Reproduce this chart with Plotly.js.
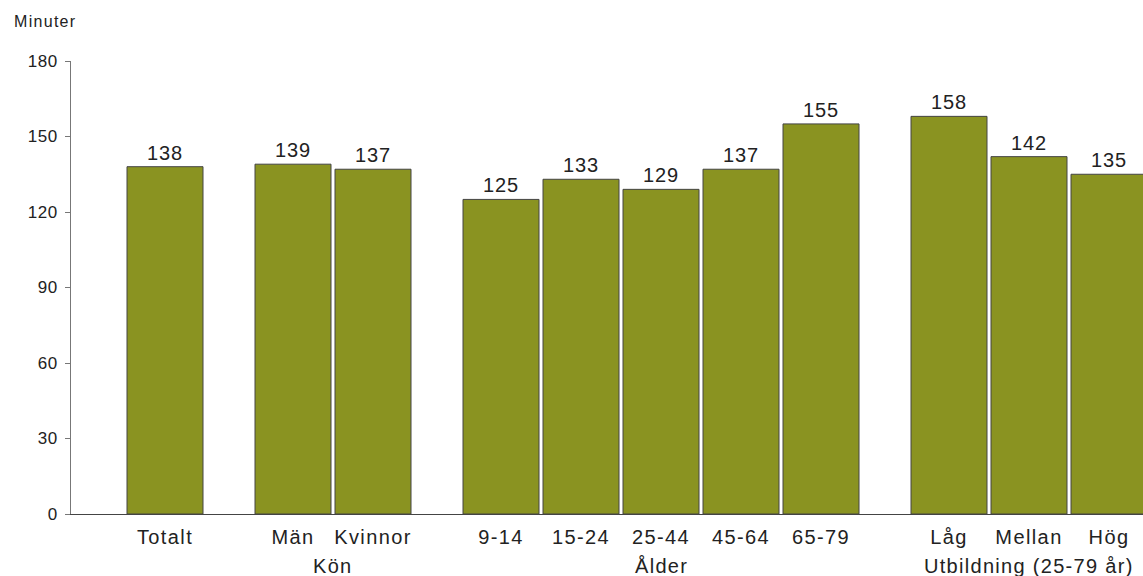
<!DOCTYPE html>
<html><head><meta charset="utf-8">
<script src="https://cdn.plot.ly/plotly-3.0.1.min.js"></script>
<style>
html,body{margin:0;padding:0;background:#fff;}
#chart{width:1143px;height:576px;}
.xtick text{letter-spacing:1.4px;}
.annotation-text{letter-spacing:1.3px;}
.bartext{letter-spacing:0.8px;}
.ytick text{letter-spacing:0.5px;}
</style></head><body><div id="chart"></div>
<script>
const groups = ["", "Kön", "Ålder", "Utbildning (25-79 år)"];
const categories = [["Totalt"], ["Män", "Kvinnor"], ["9-14", "15-24", "25-44", "45-64", "65-79"], ["Låg", "Mellan", "Hög"]];
const values = [[138], [139, 137], [125, 133, 129, 137, 155], [158, 142, 135]];
const yTicks = [0, 30, 60, 90, 120, 150, 180];
const yLabel = "Minuter";

const GROUP_GAP = 0.6;
const xs = [], ys = [], labels = [], groupAnn = [];
let idx = 0;
categories.forEach((cats, g) => {
  const gx = [];
  cats.forEach((c, i) => {
    const x = idx + GROUP_GAP * g;
    xs.push(x); ys.push(values[g][i]); labels.push(c); gx.push(x);
    idx++;
  });
  if (groups[g]) {
    groupAnn.push({
      text: groups[g], x: gx.reduce((a, b) => a + b, 0) / gx.length, xref: 'x',
      y: -0.115, yref: 'paper', yanchor: 'middle', xanchor: 'center',
      showarrow: false, font: {family: 'Liberation Sans, Arial, sans-serif', size: 20, color: '#222'}
    });
  }
});

const trace = {
  type: 'bar', x: xs, y: ys, width: 0.95,
  marker: {color: '#8a9321', line: {color: '#444', width: 1}},
  texttemplate: '%{y}', textposition: 'outside', cliponaxis: false, constraintext: 'none',
  textfont: {family: 'Liberation Sans, Arial, sans-serif', size: 20, color: '#222'},
  hoverinfo: 'none'
};

const layout = {
  width: 1143, height: 576,
  margin: {l: 71, r: 0, t: 61, b: 62},
  paper_bgcolor: '#fff', plot_bgcolor: '#fff',
  showlegend: false,
  font: {family: 'Liberation Sans, Arial, sans-serif', color: '#222'},
  xaxis: {
    range: [-1.175, 12.225], tickmode: 'array', tickvals: xs, ticktext: labels,
    ticks: '', showgrid: false, zeroline: false, showline: true, linecolor: '#444', linewidth: 1,
    tickfont: {size: 20, color: '#222'}, ticklabelstandoff: 5
  },
  yaxis: {
    range: [0, 180], tickmode: 'array', tickvals: yTicks, ticks: 'outside', ticklen: 5,
    tickcolor: '#777', showline: true, linecolor: '#777', linewidth: 1, showgrid: false, zeroline: false,
    tickfont: {size: 17, color: '#222'}, ticklabelstandoff: 4
  },
  annotations: [
    ...groupAnn,
    {text: yLabel, xref: 'paper', x: -59 / 1072, xanchor: 'left', yref: 'paper', y: 1 + 40 / 453, yanchor: 'middle',
     showarrow: false, font: {size: 16, color: '#222'}}
  ]
};

Plotly.newPlot('chart', [trace], layout, {displayModeBar: false, staticPlot: true});
</script></body></html>
